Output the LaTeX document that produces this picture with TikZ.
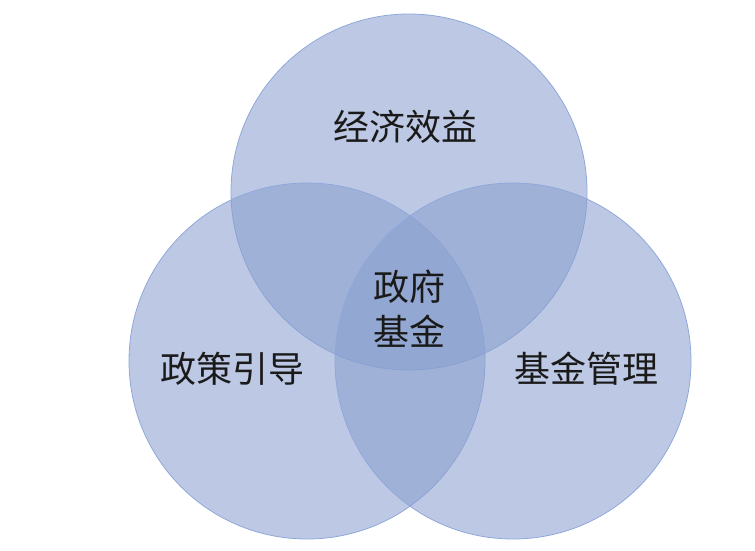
\documentclass[tikz,border=0pt]{standalone}
\usepackage{fontspec}
\newfontfamily\cjk{Noto Sans CJK SC}
\definecolor{venn}{HTML}{899FCF}
\definecolor{vennline}{HTML}{8FA8DA}
\definecolor{ink}{HTML}{1A1A1A}

\begin{document}
\begin{tikzpicture}[x=1pt,y=-1pt,font=\cjk\fontsize{36}{45}\selectfont,text=ink,
  disc/.style={circle,minimum size=356pt,inner sep=0pt,fill=venn,
    fill opacity=.56,draw=vennline,line width=.8pt}]
  \useasboundingbox (0,0) rectangle (755,551);
  % three sets
  \node[disc] (econ) at (409,192) {};
  \node[disc] (policy) at (307,361) {};
  \node[disc] (fund) at (513,361) {};
  % labels
  \node (econlbl) at (405,127) {经济效益};
  \node (policylbl) at (232,369) {政策引导};
  \node (fundlbl) at (586,369) {基金管理};
  \node[align=center] (core) at (409,309) {政府\\基金};
\end{tikzpicture}
\end{document}
